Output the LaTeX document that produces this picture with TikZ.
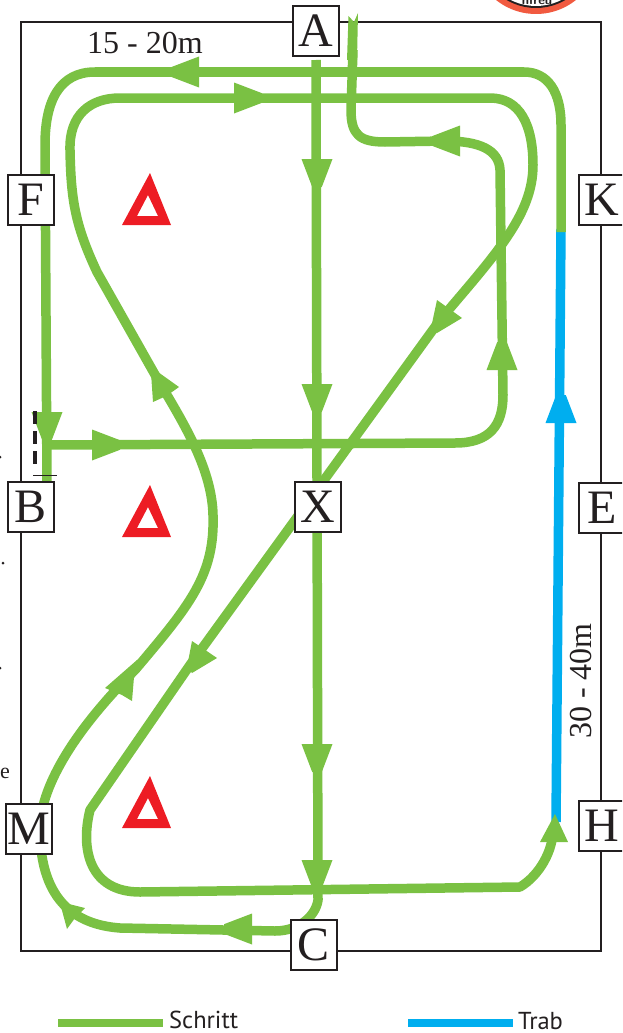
\documentclass[tikz,border=0pt]{standalone}
\usepackage{fontspec}
\setmainfont{Liberation Serif}
\newfontfamily\legendfont{PT Sans}
\definecolor{grn}{HTML}{7AC143}
\definecolor{blu}{HTML}{00AEEF}
\definecolor{rd}{HTML}{ED1C24}
\definecolor{ink}{HTML}{231F20}
\definecolor{logored}{HTML}{F15A40}
\newcommand{\headat}[4][grn]{\fill[#1,shift={(#2,#3)},rotate=#4] (0,4.8)--(-28,15.5)--(-28,-15.5)--(0,-4.8)--cycle;}
\newcommand{\warn}[1]{\fill[rd,even odd rule,shift={(0,#1)}] (150,0)--(122,52)--(171,52)--cycle (148,22)--(137,43)--(158,43)--cycle;}
\tikzset{
  letterbox/.style={draw=ink,line width=2pt,fill=white,minimum width=46pt,minimum height=50pt,inner sep=0pt,text=ink,font=\fontsize{48}{48}\selectfont},
  path1/.style={draw=grn,line width=9.5pt,line join=round},
  path2/.style={draw=blu,line width=9.5pt},
  smalltext/.style={text=ink,font=\fontsize{32}{32}\selectfont,inner sep=0pt},
  legendtext/.style={text=ink,font=\legendfont\fontsize{24.5}{24.5}\selectfont,inner sep=0pt,anchor=base west}
}
\begin{document}
\begin{tikzpicture}[x=1pt,y=-1pt]
\useasboundingbox (0,0) rectangle (622,1033);
\begin{scope}
\clip (0,0) rectangle (622,1033);
% logo fragment
\fill[logored] (536,-50) circle (64);
\fill[ink] (536,-50) circle (58);
\fill[white] (536,-50) circle (56);
\node[text=ink,font=\sffamily\bfseries\fontsize{13}{13}\selectfont,inner sep=0pt] (logo) at (537,0) {nfreu};
% arena
\draw[ink,line width=1.2pt] (21,22) rectangle (601,951);
% paths
\draw[path2] (556,822) -- (561,229);
\headat[blu]{561}{395}{90}
\draw[path1] (561,232) -- (561,125) .. controls (561,92) and (548,72) .. (524,72)
  -- (95,72) .. controls (60,72) and (45,100) .. (45,145) -- (47,487);
\headat{171}{72}{180}
\draw[path1] (47,445) -- (455,443) .. controls (490,443) and (503,425) .. (503,395) -- (500,170)
  .. controls (499,150) and (480,141) .. (445,141) -- (385,142) .. controls (360,142) and (351,135) .. (351,110) -- (353,50);
\fill[grn] (348.5,16) -- (354,22) -- (358,13) -- (357,60) -- (347,60) -- cycle;
\headat{120}{445}{0}
\headat{47}{440}{-90}
\headat{502}{342}{90}
\headat{432}{141}{180}
% inner loop
\draw[path1] (40,829) .. controls (40,790) and (70,735) .. (135,670)
  .. controls (190,605) and (215,575) .. (213,515) .. controls (212,470) and (185,425) .. (158,380)
  -- (97,272) .. controls (75,225) and (71,200) .. (70,150) .. controls (69,115) and (90,98) .. (120,98)
  -- (490,98) .. controls (520,98) and (533,125) .. (533,165) .. controls (533,215) and (495,255) .. (440,320)
  -- (190,665) -- (90,810) .. controls (80,850) and (90,892) .. (140,892)
  -- (520,887) .. controls (540,875) and (553,850) .. (553,830);
\headat{262}{98}{0}
\draw[path1] (316,60) -- (318,900) .. controls (316,915) and (300,931) .. (275,931) -- (120,928)
  .. controls (80,925) and (40,905) .. (40,829);
\headat{317}{187}{-90}
\headat{317}{412}{-90}
\headat{317}{772}{-90}
\headat{317}{888}{-90}
\headat{224}{929}{180}
\fill[grn] (555,814)--(540,842)--(568,842)--cycle;
\fill[grn] (60,903)--(65,903)--(85,908)--(75,918)--(67,929)--cycle;
\fill[grn] (105,688)--(137,660)--(134,677)--(132,701)--(122,695)--cycle;
\fill[grn] (192,641)--(187,667)--(192,673)--(217,658)--cycle;
\fill[grn] (437,300)--(431,328)--(437,333)--(462,318)--cycle;
\fill[grn] (151,373)--(158,372)--(179,387)--(172,392)--(164,397)--(153,402)--cycle;
% dashes at B
\draw[ink,line width=3.5pt,dash pattern=on 13pt off 7pt] (35,411) -- (35,465);
\draw[ink,line width=1pt] (33,475) -- (57,475);
% warnings
\warn{173}
\warn{485}
\warn{776}
% boxes
\node[letterbox] (a) at (316,31) {A};
\node[letterbox] (f) at (31,200) {F};
\node[letterbox] (k) at (602,200) {K};
\node[letterbox] (b) at (31,507) {B};
\node[letterbox] (e) at (602,508) {E};
\node[letterbox] (x) at (318,507) {X};
\node[letterbox] (m) at (29,829) {M};
\node[letterbox] (h) at (602,826) {H};
\node[letterbox] (c) at (314,945) {C};
% margin bits
\fill[ink] (0,457) circle (1.5) (3,563) circle (1.5) (0,668) circle (1.5);
\node[text=ink,font=\fontsize{22}{22}\selectfont,inner sep=0pt,anchor=base west] (em) at (0,778) {e};
\end{scope}
% labels
\node[smalltext,anchor=base west] (l1) at (87,53) {15 - 20m};
\node[smalltext,rotate=90,anchor=base] (l2) at (591,681) {30 - 40m};
% legend
\draw[grn,line width=8pt] (58,1023) -- (163,1023);
\draw[blu,line width=8pt] (408,1023) -- (513,1023);
\node[legendtext] (s) at (169,1028) {Schritt};
\node[legendtext] (t) at (518,1029) {Trab};
\end{tikzpicture}
\end{document}
